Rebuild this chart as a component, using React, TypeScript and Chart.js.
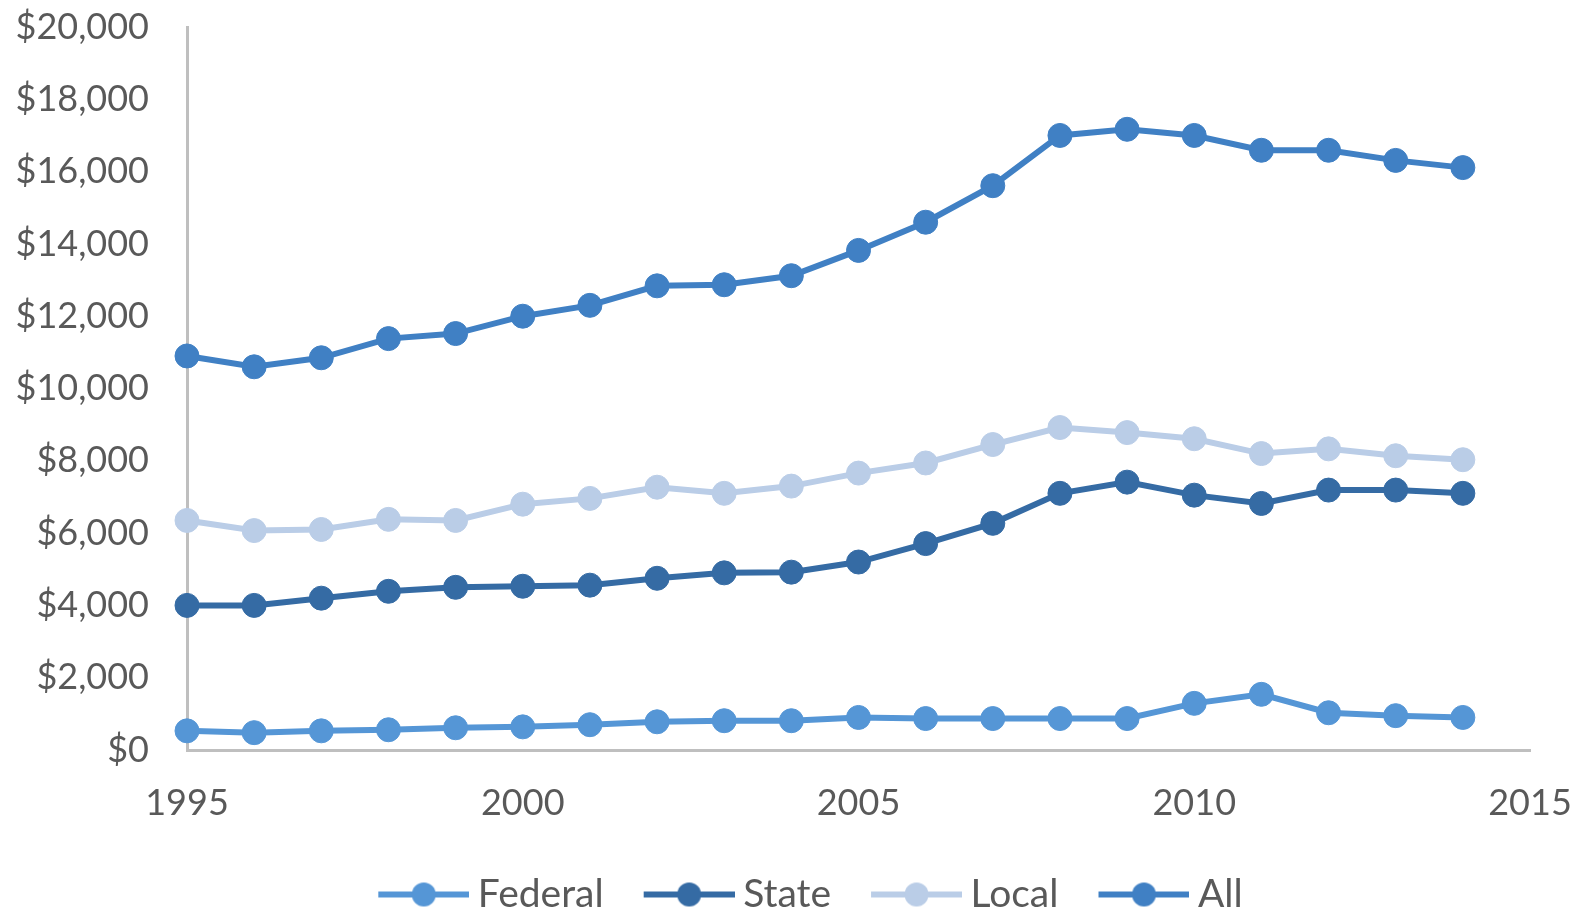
import React, { useEffect, useRef } from "react";
import { Chart, registerables } from "chart.js";

Chart.register(...registerables);

const years = [1995, 1996, 1997, 1998, 1999, 2000, 2001, 2002, 2003, 2004, 2005, 2006, 2007, 2008, 2009, 2010, 2011, 2012, 2013, 2014];
const federal = [530, 480, 530, 560, 615, 640, 700, 780, 810, 810, 900, 870, 870, 870, 870, 1290, 1540, 1030, 950, 900];
const stateVals = [4000, 4000, 4200, 4390, 4500, 4530, 4560, 4750, 4900, 4920, 5200, 5710, 6270, 7100, 7410, 7050, 6820, 7190, 7190, 7100];
const local = [6350, 6070, 6100, 6380, 6350, 6800, 6960, 7270, 7100, 7300, 7660, 7940, 8450, 8920, 8780, 8610, 8200, 8330, 8140, 8030];
const all = [10900, 10600, 10850, 11380, 11520, 12000, 12300, 12840, 12870, 13120, 13820, 14600, 15610, 17000, 17170, 17000, 16590, 16590, 16310, 16110];
const seriesNames = ["Federal", "State", "Local", "All"];
const seriesColors = ["#5596d6", "#356ba4", "#bacde7", "#4080c4"];
const yTicksMin = 0;
const yTicksMax = 20000;
const yStep = 2000;
const xMin = 1995;
const xMax = 2015;
const xStep = 5;

const FONT = "Lato, 'Open Sans', sans-serif";
const FS = 36;
const LEGEND_FS = 39;

function makeLegendIcon(color: string): HTMLCanvasElement {
  const c = document.createElement("canvas");
  c.width = 141;
  c.height = 30;
  const ctx = c.getContext("2d")!;
  ctx.strokeStyle = color;
  ctx.lineWidth = 6;
  ctx.beginPath();
  ctx.moveTo(50, 15);
  ctx.lineTo(141, 15);
  ctx.stroke();
  ctx.fillStyle = color;
  ctx.beginPath();
  ctx.arc(95.5, 15, 12, 0, Math.PI * 2);
  ctx.fill();
  return c;
}

const legendShift = {
  id: "legendShift",
  afterLayout(chart: any) {
    const l = chart.legend;
    if (l) {
      l.left += 26;
      l.right += 26;
    }
  },
};

export default function App() {
  const ref = useRef<HTMLCanvasElement | null>(null);
  useEffect(() => {
    if (!ref.current) return;
    const seriesData = [federal, stateVals, local, all];
    const icons = seriesColors.map((c) => makeLegendIcon(c));
    const chart = new Chart(ref.current, {
      type: "line",
      data: {
        datasets: seriesNames.map((name, i) => ({
          label: name,
          data: years.map((y, j) => ({ x: y, y: seriesData[i][j] })),
          borderColor: seriesColors[i],
          backgroundColor: seriesColors[i],
          pointBackgroundColor: seriesColors[i],
          pointBorderColor: seriesColors[i],
          borderWidth: 6,
          pointRadius: 12,
          pointBorderWidth: 1,
          tension: 0,
          clip: false as any,
        })),
      },
      plugins: [legendShift],
      options: {
        animation: false,
        responsive: false,
        layout: { padding: { left: 0, right: 57, top: 27, bottom: -12 } },
        scales: {
          x: {
            type: "linear",
            min: xMin,
            max: xMax,
            grid: { display: true, drawOnChartArea: false, drawTicks: true, tickLength: 32, color: "rgba(0,0,0,0)" },
            border: { display: true, color: "#bfbfbf", width: 3 },
            ticks: {
              stepSize: xStep,
              padding: 0,
              color: "#595959",
              font: { family: FONT, size: FS },
              callback: (v: any) => String(v),
              maxRotation: 0,
            },
            afterFit: (s: any) => {
              s.height = 124;
            },
          },
          y: {
            min: yTicksMin,
            max: yTicksMax,
            grid: { display: true, drawOnChartArea: false, drawTicks: true, tickLength: 38, color: "rgba(0,0,0,0)" },
            border: { display: true, color: "#bfbfbf", width: 3 },
            ticks: {
              stepSize: yStep,
              padding: 0,
              color: "#595959",
              font: { family: FONT, size: FS },
              callback: (v: any) => "$" + Number(v).toLocaleString("en-US"),
            },
            afterFit: (s: any) => {
              s.width = 187;
            },
          },
        },
        plugins: {
          tooltip: { enabled: false },
          legend: {
            position: "bottom",
            labels: {
              usePointStyle: true,
              pointStyleWidth: 119,
              padding: 1,
              color: "#595959",
              font: { family: FONT, size: LEGEND_FS, lineHeight: 1 },
              generateLabels: (ch: any) => {
                const items = (Chart.defaults.plugins.legend.labels as any).generateLabels(ch);
                return items.map((it: any, i: number) => ({ ...it, pointStyle: icons[i] }));
              },
            },
          },
        },
      },
    });
    return () => chart.destroy();
  }, []);
  return (
    <div style={{ position: "fixed", left: 0, top: 0, width: 1587, height: 912, background: "#fff" }}>
      <canvas ref={ref} width={1587} height={912} style={{ display: "block" }} />
    </div>
  );
}
